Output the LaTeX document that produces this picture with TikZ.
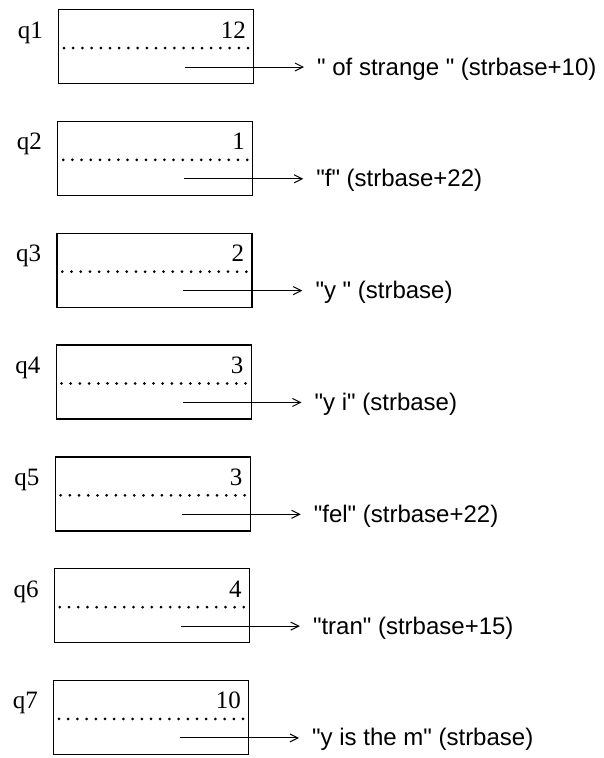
\documentclass[tikz,border=0pt]{standalone}
\usepackage{fontspec}
\setmainfont{Liberation Serif}
\newfontfamily\qsans{Liberation Sans}
\usetikzlibrary{arrows.meta,calc}
\begin{document}
\begin{tikzpicture}[x=1pt,y=1pt,
  qbox/.style={draw, line width=1.2pt, minimum width=195pt, minimum height=74pt, inner sep=0pt, anchor=north west},
  qlabel/.style={font=\fontsize{25}{25}\selectfont, anchor=base east, inner sep=0pt},
  qnum/.style={font=\fontsize{25}{25}\selectfont, anchor=base east, inner sep=0pt},
  qtext/.style={font=\qsans\fontsize{24}{24}\selectfont, anchor=base west, inner sep=0pt},
  qdots/.style={line width=3pt, line cap=round, dash pattern=on 0pt off 9.2pt},
  qarrow/.style={line width=1pt, -{Straight Barb[length=8pt,width=8pt]}}]
\useasboundingbox (0,0) rectangle (603,-758);
\foreach \i/\n/\t in {1/12/{" of strange " (strbase+10)},
                      2/1/{"f" (strbase+22)},
                      3/2/{"y " (strbase)},
                      4/3/{"y i" (strbase)},
                      5/3/{"fel" (strbase+22)},
                      6/4/{"tran" (strbase+15)},
                      7/10/{"y is the m" (strbase)}}{
  \pgfmathsetmacro\dx{-5*(\i-1)/6}
  \pgfmathsetmacro\ay{-(67+111.83*(\i-1))}
  \node[qbox] (box\i) at (58+\dx, \ay+58) {};
  \node[qlabel] (lab\i) at (43+\dx, \ay+29) {q\i};
  \node[qnum] (num\i) at (246+\dx, \ay+29) {\n};
  \coordinate (dl\i) at (64+\dx, \ay+19);
  \coordinate (dr\i) at (248+\dx, \ay+19);
  \draw[qdots] (dl\i) -- (dr\i);
  \coordinate (as\i) at (185+\dx, \ay);
  \node[qtext] (t\i) at (317+\dx, \ay-8) {\t};
  \draw[qarrow] (as\i) -- ($(as\i -| t\i.west)+(-13pt,0)$);
}
\end{tikzpicture}
\end{document}
